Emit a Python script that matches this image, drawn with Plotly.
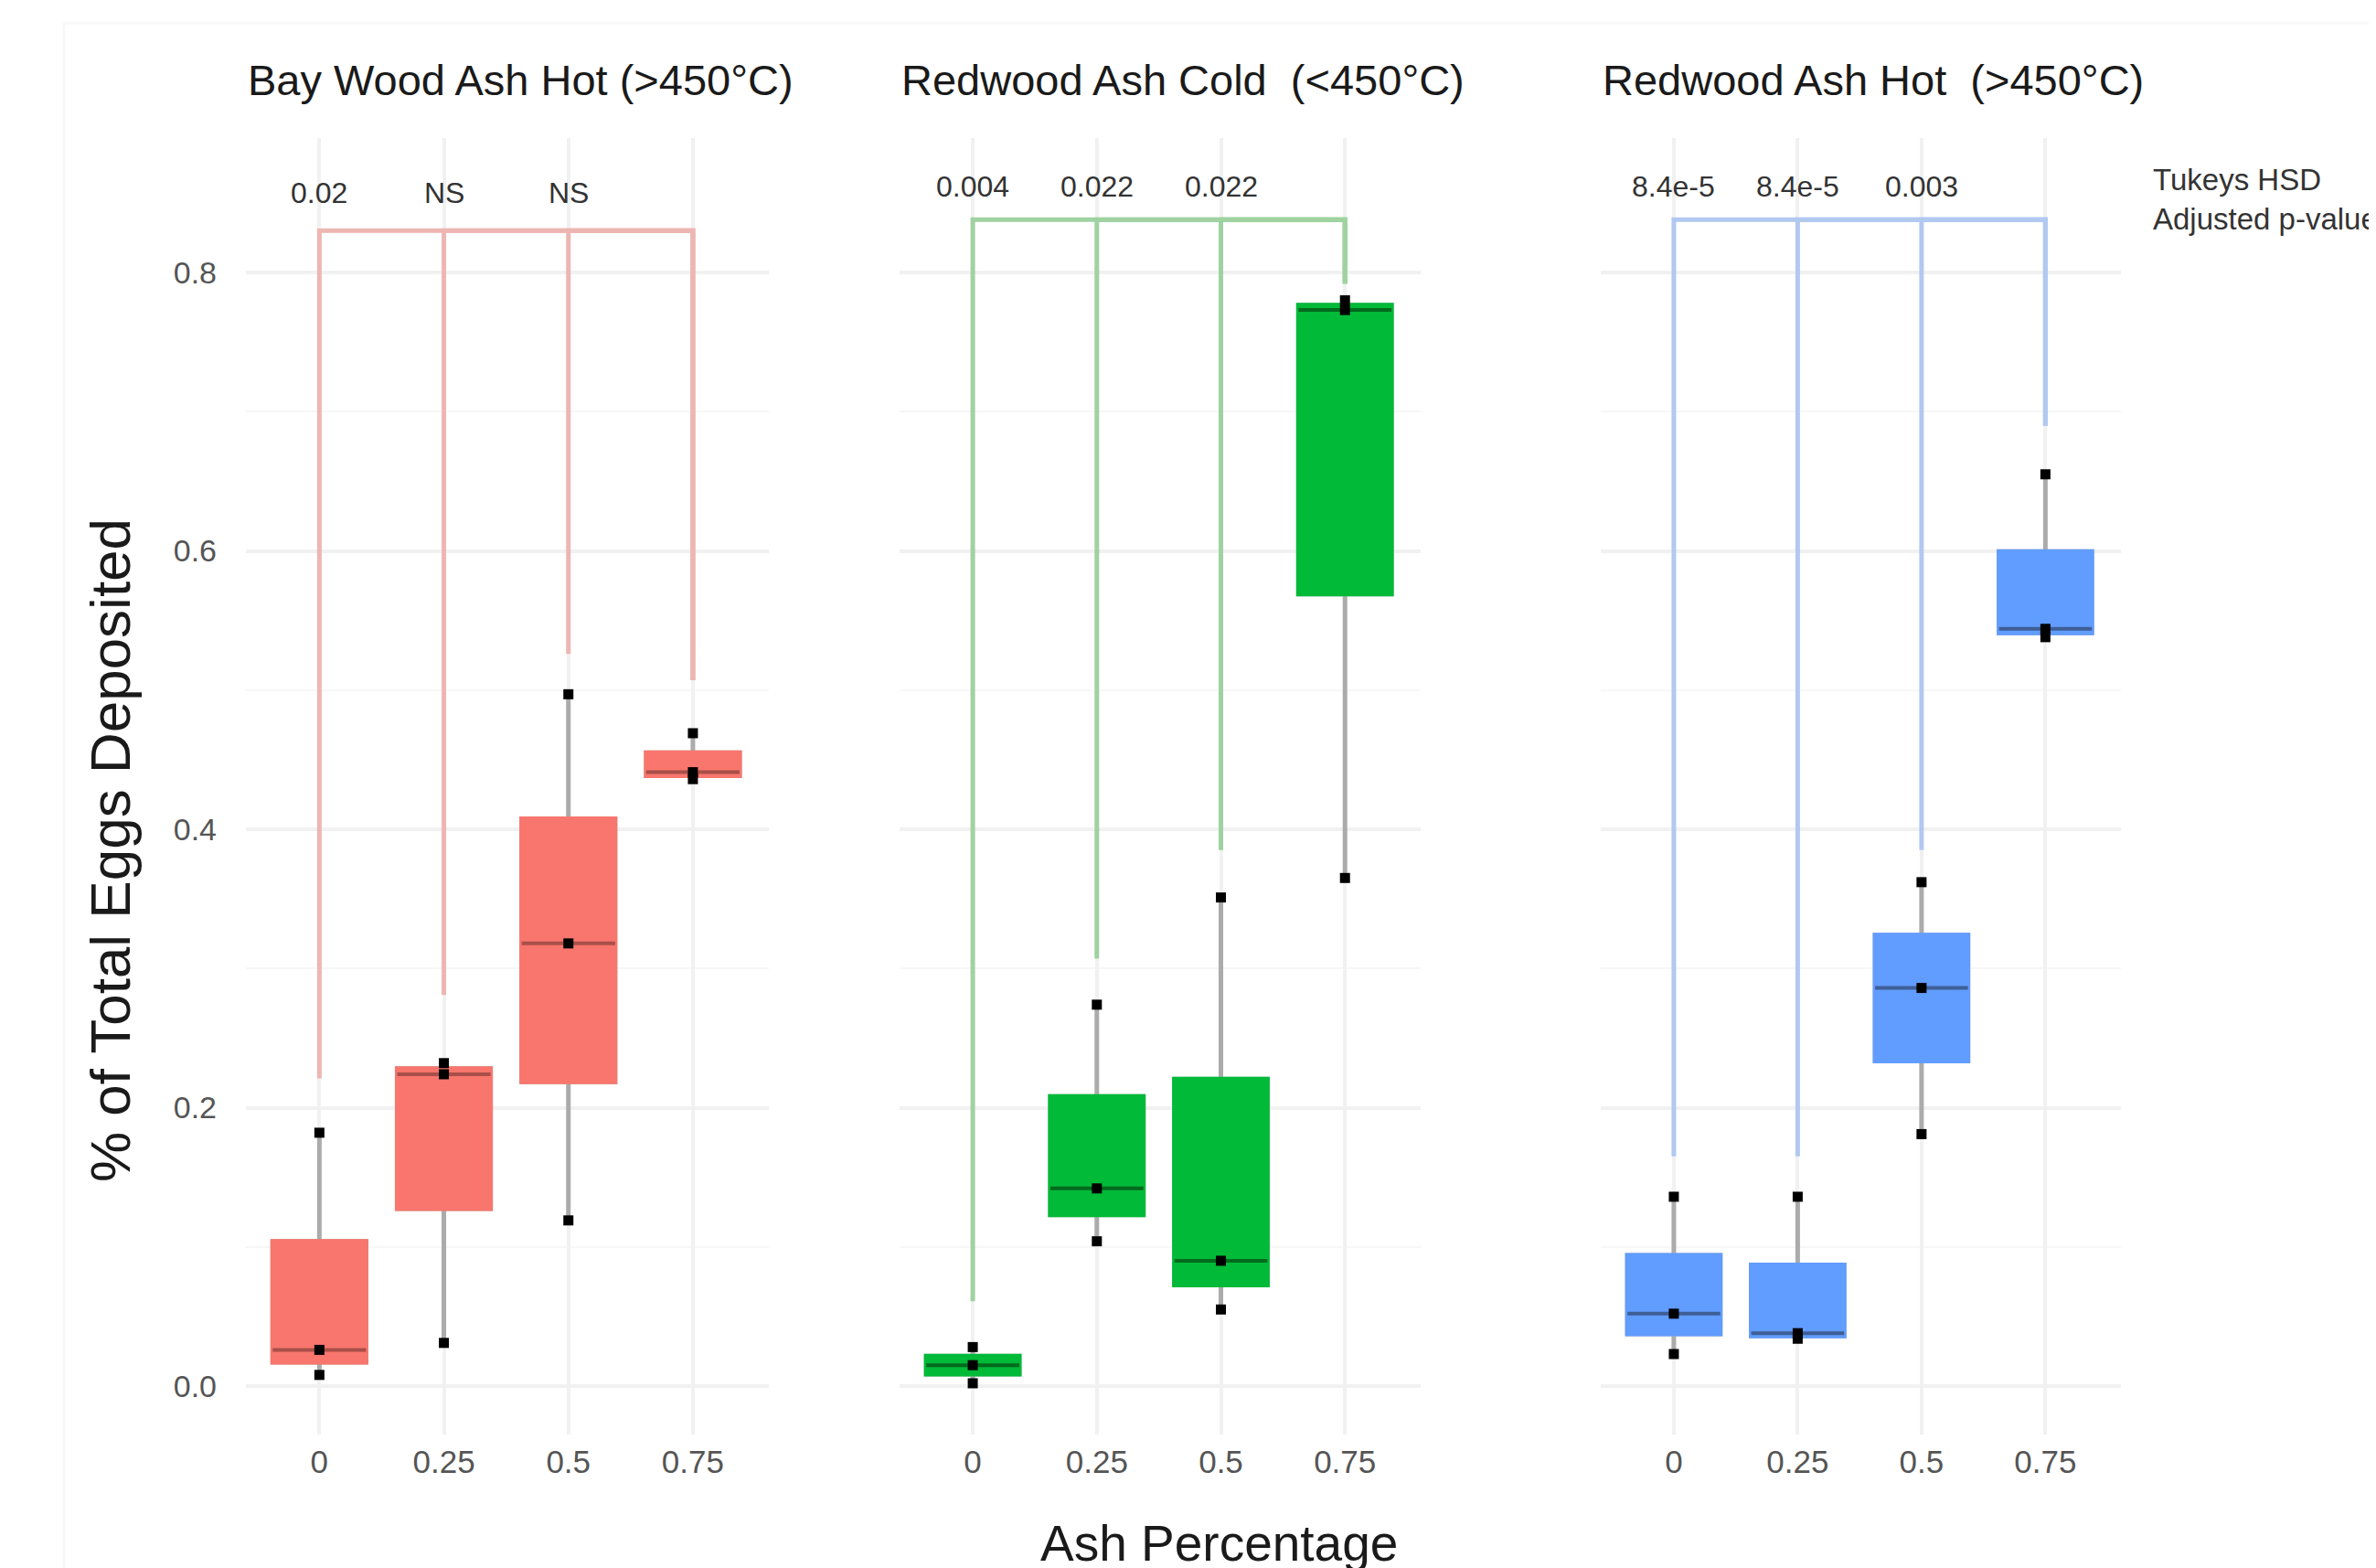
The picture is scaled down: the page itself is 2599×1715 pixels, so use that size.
import numpy as np
import plotly.graph_objects as go

W, H = 2599, 1715

# ---------------- data ----------------
ash_levels = ["0", "0.25", "0.5", "0.75"]
panel_titles = ["Bay Wood Ash Hot (>450°C)",
                "Redwood Ash Cold\u00a0 (<450°C)",
                "Redwood Ash Hot\u00a0 (>450°C)"]

# three replicate proportions per ash level
bay_hot = [[0.008, 0.026, 0.182], [0.031, 0.224, 0.232],
           [0.119, 0.318, 0.497], [0.436, 0.441, 0.469]]
redwood_cold = [[0.002, 0.015, 0.028], [0.104, 0.142, 0.274],
                [0.055, 0.090, 0.351], [0.365, 0.773, 0.780]]
redwood_hot = [[0.023, 0.052, 0.136], [0.034, 0.038, 0.136],
               [0.181, 0.286, 0.362], [0.538, 0.544, 0.655]]

# Tukey HSD adjusted p-values (each level vs 0.75)
p_bay_hot = ["0.02", "NS", "NS"]
p_redwood_cold = ["0.004", "0.022", "0.022"]
p_redwood_hot = ["8.4e-5", "8.4e-5", "0.003"]

# bracket geometry (data units)
bracket_top = [0.830, 0.838, 0.838]
bracket_label_y = [0.857, 0.862, 0.862]
bracket_ends_bay_hot = [0.221, 0.281, 0.526, 0.507]
bracket_ends_redwood_cold = [0.061, 0.307, 0.385, 0.792]
bracket_ends_redwood_hot = [0.165, 0.165, 0.385, 0.690]

y_ticks = [0.0, 0.2, 0.4, 0.6, 0.8]

# ---------------- styling ----------------
fills = ["#F8766D", "#00BA38", "#619CFF"]
median_cols = ["#A94F49", "#006A1D", "#3E5F96"]
bracket_cols = ["#EDB6B3", "#9FD2A0", "#B1C9F1"]
whisker_col = "#ABABAB"
grid_col = "#F1F1F1"
FONT = "Liberation Sans, Arial, sans-serif"
BOX_W = 0.75

panels = [
    (bay_hot, p_bay_hot, bracket_ends_bay_hot),
    (redwood_cold, p_redwood_cold, bracket_ends_redwood_cold),
    (redwood_hot, p_redwood_hot, bracket_ends_redwood_hot),
]
x_dom_px = [(261, 833), (976, 1546), (1743, 2312)]
y_dom_px = (143, 1561)  # top, bottom
y0_px = 1508
px_per_unit = 1522.5
y_lo = -(y_dom_px[1] - y0_px) / px_per_unit
y_hi = (y0_px - y_dom_px[0]) / px_per_unit

fig = go.Figure()
annotations = []

for i, (groups, pvals, ends) in enumerate(panels):
    xa = "x" if i == 0 else f"x{i+1}"
    ya = "y" if i == 0 else f"y{i+1}"

    # brackets
    bx, by = [], []
    for j in range(3):
        bx += [ash_levels[j], ash_levels[j], ash_levels[3], ash_levels[3], None]
        by += [ends[j], bracket_top[i], bracket_top[i], ends[3], None]
    fig.add_trace(go.Scatter(x=bx, y=by, mode="lines", xaxis=xa, yaxis=ya,
                             line=dict(color=bracket_cols[i], width=5),
                             hoverinfo="skip", showlegend=False))

    xs = [lvl for lvl, g in zip(ash_levels, groups) for _ in g]
    ys = [v for g in groups for v in g]
    arr = [np.array(g) for g in groups]
    q1 = [float(np.percentile(a, 25)) for a in arr]
    med = [float(np.percentile(a, 50)) for a in arr]
    q3 = [float(np.percentile(a, 75)) for a in arr]
    lo = [float(a.min()) for a in arr]
    hi = [float(a.max()) for a in arr]

    # layer 1: whiskers (gray)
    fig.add_trace(go.Box(x=ash_levels, q1=q1, median=med, q3=q3,
                         lowerfence=lo, upperfence=hi, xaxis=xa, yaxis=ya,
                         width=BOX_W, whiskerwidth=0,
                         line=dict(color=whisker_col, width=5),
                         fillcolor="rgba(0,0,0,0)", hoverinfo="skip",
                         showlegend=False))
    # layer 2: filled box without whiskers
    fig.add_trace(go.Box(x=ash_levels, q1=q1, median=med, q3=q3,
                         lowerfence=q1, upperfence=q3, xaxis=xa, yaxis=ya,
                         width=BOX_W, whiskerwidth=0,
                         line=dict(color=fills[i], width=5),
                         fillcolor=fills[i], hoverinfo="skip", showlegend=False))
    # layer 3: darker median line
    fig.add_trace(go.Box(x=ash_levels, q1=med, median=med, q3=med,
                         lowerfence=med, upperfence=med, xaxis=xa, yaxis=ya,
                         width=BOX_W, whiskerwidth=0,
                         line=dict(color=median_cols[i], width=4),
                         fillcolor="rgba(0,0,0,0)", hoverinfo="skip",
                         showlegend=False))
    # points
    fig.add_trace(go.Scatter(x=xs, y=ys, mode="markers", xaxis=xa, yaxis=ya,
                             marker=dict(color="black", size=11, symbol="square"),
                             hoverinfo="skip", showlegend=False))

    # p-value labels (category index positions)
    for j in range(3):
        annotations.append(dict(x=j, y=bracket_label_y[i], xref=xa, yref=ya,
                                text=pvals[j], showarrow=False,
                                font=dict(family=FONT, size=32, color="#333333"),
                                xanchor="center", yanchor="middle"))
    # panel title
    annotations.append(dict(x=x_dom_px[i][0] / W, y=1 - 79 / H, xref="paper", yref="paper",
                            text=panel_titles[i], showarrow=False,
                            font=dict(family=FONT, size=47, color="#1A1A1A"),
                            xanchor="left", yanchor="middle"))

# axis titles and side note
annotations.append(dict(x=113 / W, y=1 - 922 / H, xref="paper", yref="paper",
                        text="% of Total Eggs Deposited", textangle=-90, showarrow=False,
                        font=dict(family=FONT, size=62, color="#1A1A1A"),
                        xanchor="center", yanchor="middle"))
annotations.append(dict(x=1325 / W, y=1 - 1680 / H, xref="paper", yref="paper",
                        text="Ash Percentage", showarrow=False,
                        font=dict(family=FONT, size=55, color="#1A1A1A"),
                        xanchor="center", yanchor="middle"))
annotations.append(dict(x=2345 / W, y=1 - 189 / H, xref="paper", yref="paper",
                        text="Tukeys HSD", showarrow=False,
                        font=dict(family=FONT, size=33, color="#333333"),
                        xanchor="left", yanchor="middle"))
annotations.append(dict(x=2345 / W, y=1 - 231 / H, xref="paper", yref="paper",
                        text="Adjusted p-values", showarrow=False,
                        font=dict(family=FONT, size=33, color="#333333"),
                        xanchor="left", yanchor="middle"))

layout = dict(
    width=W, height=H, margin=dict(l=0, r=0, t=0, b=0),
    paper_bgcolor="white", plot_bgcolor="white",
    boxmode="overlay",
    annotations=annotations,
    shapes=[dict(type="rect", xref="paper", yref="paper",
                 x0=62 / W, x1=1.05, y0=-0.05, y1=1 - 17 / H,
                 line=dict(color="#F8F8F8", width=3), layer="below")],
)
for i in range(3):
    xk = "xaxis" if i == 0 else f"xaxis{i+1}"
    yk = "yaxis" if i == 0 else f"yaxis{i+1}"
    ya = "y" if i == 0 else f"y{i+1}"
    xa = "x" if i == 0 else f"x{i+1}"
    layout[xk] = dict(domain=[x_dom_px[i][0] / W, x_dom_px[i][1] / W], anchor=ya,
                      type="category", categoryorder="array", categoryarray=ash_levels,
                      range=[-0.59, 3.61], showgrid=True, gridcolor=grid_col, gridwidth=4,
                      showline=False, zeroline=False, ticks="",
                      tickfont=dict(family=FONT, size=35, color="#555555"),
                      ticklabelstandoff=6, fixedrange=True)
    layout[yk] = dict(domain=[1 - y_dom_px[1] / H, 1 - y_dom_px[0] / H], anchor=xa,
                      range=[y_lo, y_hi], tickvals=y_ticks, tickformat=".1f",
                      showticklabels=(i == 0), showgrid=True, gridcolor=grid_col,
                      gridwidth=4, zeroline=False, showline=False, ticks="",
                      minor=dict(dtick=0.1, tick0=0, showgrid=True,
                                 gridcolor="#F7F7F7", gridwidth=2),
                      tickfont=dict(family=FONT, size=34, color="#555555"),
                      ticklabelstandoff=31, fixedrange=True)

fig.update_layout(**layout)
fig.write_html("out.html")
